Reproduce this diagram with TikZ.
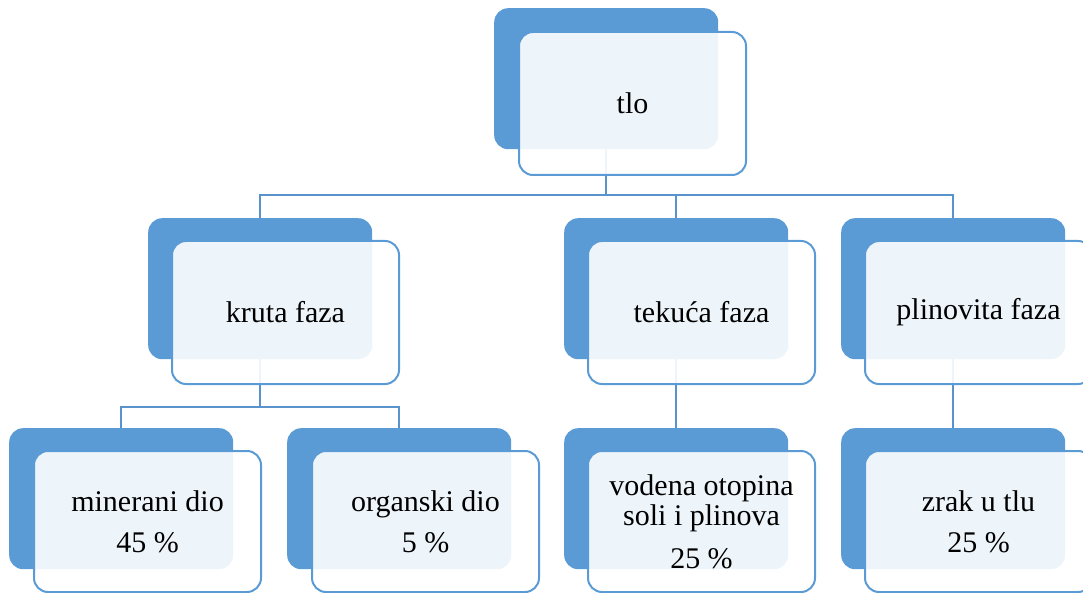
\documentclass[tikz,border=0pt]{standalone}
\usepackage{fontspec}
\setmainfont{Liberation Serif}
\definecolor{accent}{HTML}{5B9BD5}
\definecolor{conn}{HTML}{5A92CC}
\begin{document}
\begin{tikzpicture}[x=1pt,y=-1pt,
  backbox/.style={draw=none, fill=accent, rounded corners=14pt, minimum width=224pt, minimum height=141pt, anchor=north west, inner sep=0pt},
  frontbox/.style={draw=accent, line width=2pt, fill=white, fill opacity=0.9, text opacity=1, draw opacity=1, rounded corners=14pt, minimum width=227pt, minimum height=143pt, anchor=north west, inner sep=0pt, align=center, font=\fontsize{30}{30}\selectfont},
  lowbox/.style={frontbox, minimum height=141pt},
  link/.style={draw=conn, line width=2pt}]
\useasboundingbox (0,0) rectangle (1083,593);
\clip (0,0) rectangle (1083,593);
% back boxes
\node[backbox] (b0) at (494,8) {};
\node[backbox] (b1) at (148,218) {};
\node[backbox] (b2) at (564,218) {};
\node[backbox] (b3) at (841,218) {};
\node[backbox] (b4) at (9,428) {};
\node[backbox] (b5) at (287,428) {};
\node[backbox] (b6) at (564,428) {};
\node[backbox] (b7) at (841,428) {};
% connectors
\draw[link] (b0.south) -- ++(0,46) -| (b1.north);
\draw[link] (b0.south) -- ++(0,46) -| (b2.north);
\draw[link] (b0.south) -- ++(0,46) -| (b3.north);
\draw[link] (b1.south) -- ++(0,48) -| (b4.north);
\draw[link] (b1.south) -- ++(0,48) -| (b5.north);
\draw[link] (b2.south) -- (b6.north);
\draw[link] (b3.south) -- (b7.north);
% front boxes
\node[frontbox] (f0) at (518,31) {tlo};
\node[frontbox] (f1) at (171,240) {kruta faza};
\node[frontbox] (f2) at (587,240) {tekuća faza};
\node[frontbox] (f3) at (864,240) {plinovita faza};
\node[lowbox] (f4) at (33,450) {minerani dio\\[11pt]45 \%};
\node[lowbox] (f5) at (311,450) {organski dio\\[11pt]5 \%};
\node[lowbox] (f6) at (587,450) {vodena otopina\\soli i plinova\\[13pt]25 \%};
\node[lowbox] (f7) at (864,450) {zrak u tlu\\[11pt]25 \%};
\end{tikzpicture}
\end{document}
